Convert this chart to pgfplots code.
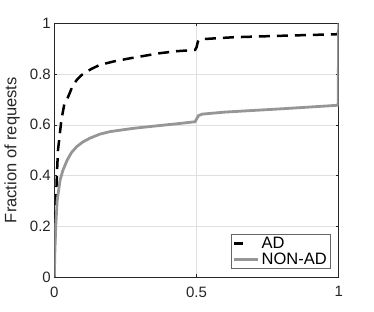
\documentclass[border=0pt]{standalone}
\usepackage{pgfplots}
\pgfplotsset{compat=1.18}
\usepackage{fontspec}
\setmainfont{Liberation Sans}
\definecolor{axgray}{RGB}{38,38,38}
\definecolor{nonad}{RGB}{150,150,150}
\begin{document}
\begin{tikzpicture}
\begin{axis}[
  name=ax,
  scale only axis,
  width=284.4pt, height=253.7pt,
  xmin=0, xmax=1, ymin=0, ymax=1,
  xtick={0,0.5,1}, ytick={0,0.2,0.4,0.6,0.8,1},
  /pgf/number format/assume math mode=true,
  tick align=inside,
  major tick length=3pt,
  axis line style={axgray, line width=0.5pt},
  every tick/.style={axgray, line width=0.5pt},
  grid=major,
  major grid style={black!12, line width=0.5pt},
  tick label style={font=\fontsize{15}{18}\selectfont, text=axgray},
  xticklabel style={yshift=-6pt},
  ylabel={Fraction of requests},
  ylabel style={font=\fontsize{16.5}{19}\selectfont, text=axgray, at={(axis description cs:-0.1206,0.5)}, anchor=south, inner sep=0pt},
  legend style={at={(1,0)}, anchor=south east, xshift=-8.7pt, yshift=8pt, font=\fontsize{16.5}{19}\selectfont, draw=black!60, line width=0.5pt, inner sep=1pt, row sep=-1pt, cells={anchor=west, text=black}},
  legend cell align=left,
  legend image code/.code={\draw[#1] (0cm,0cm) -- (0.85cm,0cm);},
]
\addplot[black, line width=2.5pt, dash pattern=on 11pt off 7pt,
  legend image code/.code={\draw[black, line width=2.5pt] (0pt,0pt) -- (9pt,0pt);}] coordinates {
(0,0) (0.001,0.1) (0.003,0.2) (0.006,0.3) (0.009,0.4) (0.013,0.5) (0.018,0.55)
(0.025,0.62) (0.035,0.68) (0.049,0.711) (0.065,0.755) (0.08,0.778) (0.096,0.796)
(0.13,0.82) (0.16,0.836) (0.21,0.85) (0.266,0.862) (0.37,0.882) (0.43,0.89)
(0.495,0.895) (0.5,0.905) (0.505,0.928) (0.512,0.937) (0.63,0.945) (0.805,0.951)
(0.998,0.957) (1,1)};
\addlegendentry{AD}
\addplot[nonad, line width=2.8pt] coordinates {
(0,0) (0.002,0.1) (0.005,0.2) (0.01,0.3) (0.02,0.38) (0.03,0.42) (0.045,0.46)
(0.06,0.49) (0.079,0.514) (0.1,0.532) (0.125,0.547) (0.16,0.563) (0.196,0.573)
(0.278,0.586) (0.37,0.597) (0.44,0.605) (0.495,0.612) (0.5,0.622) (0.507,0.636)
(0.52,0.642) (0.6,0.65) (0.8,0.663) (0.998,0.677) (1,1)};
\addlegendentry{NON-AD}
\end{axis}
\path[use as bounding box] ([xshift=-54.3pt,yshift=-35pt]ax.south west) rectangle ([xshift=35.3pt,yshift=23.3pt]ax.north east);
\end{tikzpicture}
\end{document}
